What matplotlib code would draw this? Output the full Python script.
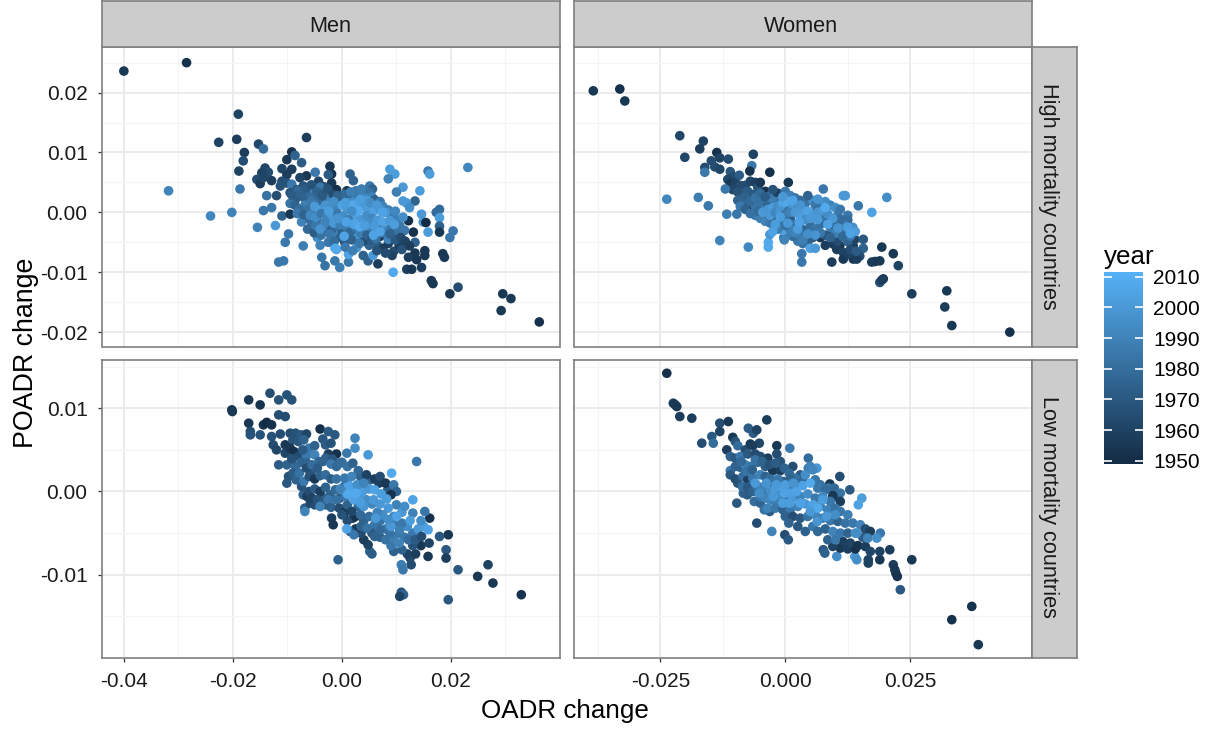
import numpy as np
import matplotlib
matplotlib.use("Agg")
import matplotlib.pyplot as plt
from matplotlib.colors import LinearSegmentedColormap, Normalize
from matplotlib.cm import ScalarMappable

plt.rcParams['font.family'] = ['Liberation Sans', 'DejaVu Sans']

# values: (OADR change, POADR change, year), OADR/POADR in thousandths
men_high = [
    (-40.0,23.6,1955),(-28.5,25.0,1952),(-19.0,16.4,1960),(-22.6,11.7,1960),(-19.3,12.2,1958),(-15.3,11.4,1962),
    (-14.4,10.6,1980),(-6.5,12.5,1958),(-17.9,10.0,1958),(-18.1,8.6,1965),(-18.9,6.9,1960),(-31.8,3.6,1990),
    (-18.7,3.9,1985),(-24.1,-0.6,1992),(-20.2,0.0,1990),(-15.5,-2.5,1990),(-12.2,-2.2,2000),(-14.4,0.3,1985),
    (-12.9,0.8,1985),(-13.8,2.8,1982),(-11.0,-0.6,1975),(-9.5,-0.3,1955),(-9.8,-3.6,1985),(-10.4,-5.0,1985),
    (-7.1,-5.6,1988),(-11.6,-8.3,1985),(-10.7,-8.1,1985),(23.1,7.5,1992),(15.8,6.9,1985),(16.1,6.4,2002),
    (8.8,7.2,2002),(9.7,6.4,2002),(8.5,5.6,1990),(11.2,4.2,2000),(10.0,3.4,1988),(14.3,3.6,2002),(13.4,1.9,1975),
    (11.2,1.9,2000),(11.8,1.6,2000),(12.4,0.8,1995),(17.9,0.5,1980),(17.3,0.0,1980),(14.6,-0.3,2000),(17.9,-0.9,2002),
    (14.9,-1.6,2000),(15.4,-1.7,1950),(17.9,-2.3,1975),(17.9,-3.3,1955),(15.8,-3.3,2002),(20.4,-3.1,1985),
    (19.8,-4.2,1985),(18.5,-6.9,1955),(18.8,-7.5,1955),(15.2,-6.4,1955),(15.2,-7.2,1955),(12.2,-1.4,1952),
    (13.1,-3.3,1952),(13.4,-5.0,1975),(13.4,-6.8,1955),(12.2,-7.5,1958),(13.7,-7.9,1955),(14.6,-9.2,1958),
    (11.9,-9.5,1958),(12.8,-9.5,1955),(9.4,-10.0,2008),(16.4,-11.4,1955),(16.7,-11.9,1955),(19.8,-13.6,1955),
    (21.3,-12.5,1965),(29.5,-13.6,1955),(31.0,-14.4,1955),(29.2,-16.4,1955),(36.2,-18.3,1952),
    (-14.1,7.4,1962),(-13.5,6.7,1965),(-14.7,6.6,1960),(-15.6,5.5,1965),(-15.0,4.8,1958),(-14.4,5.8,1962),
    (-12.9,5.3,1958),(-11.0,7.3,1962),(-9.2,7.2,1958),(-10.1,8.8,1955),(-9.2,10.1,1952),(-8.6,9.5,1975),
    (-7.4,8.3,1972),(-10.1,6.3,1958),(-6.5,6.1,1955),(-7.7,5.8,1960),(-11.0,5.2,1965),(-10.1,4.9,1968),
    (-11.3,4.4,1968),(-9.2,4.7,1985),(-12.0,2.8,1965),(-9.5,3.3,1968),(-8.3,3.8,1972),(-7.1,4.4,1968),
    (-4.9,6.7,1985),(-4.3,5.2,1962),(-2.2,7.7,1955),(-1.9,6.4,1952),(-2.5,6.3,1972),(-1.9,4.9,1955),(-1.0,3.8,1952),
    (0.9,3.6,1955),(1.5,6.4,1975),(2.1,5.3,1975),(5.1,4.4,1985),(5.6,3.9,1975),(-3.4,4.3,1962),
    (-8.0,3.5,1978),(-7.0,2.5,1975),(-8.5,2.2,1972),(-9.5,1.5,1983),(-6.0,3.2,1980),(-5.0,3.8,1990),(-4.0,4.2,1985),
    (-3.0,3.4,1978),(-2.5,3.0,1982),(-6.8,1.2,1988),(-5.5,2.0,1985),(-4.5,2.8,1980),(-3.5,2.1,1975),(-2.0,2.2,1990),
    (-1.0,1.8,1988),(0.0,2.3,1985),(1.0,2.4,1992),(2.0,2.5,1995),(3.0,2.9,1985),(4.0,3.0,1988),(5.0,3.4,1982),
    (5.5,2.6,1990),(6.0,2.1,1975),(7.0,1.8,1985),(7.5,1.0,1990),(8.5,0.4,1988),(9.0,-0.6,1985),(10.0,-1.2,1988),
    (-7.0,0.2,1985),(-6.5,-1.0,1985),(-5.5,-2.0,1982),(-4.5,-1.5,1978),(-3.5,-3.0,1975),(-2.5,-2.5,1988),
    (-2.0,-4.0,1985),(-1.0,-3.5,1990),(0.0,-3.0,1975),(1.0,-2.5,1988),(2.0,-3.5,1972),(3.0,-4.0,2000),(3.9,-3.0,1985),
    (5.0,-2.5,1990),(6.0,-3.5,1980),(7.0,-2.5,1972),(8.0,-3.0,1995),(9.0,-2.5,1985),(10.0,-3.5,1982),(11.5,-3.0,1985),
    (-3.7,-7.5,1985),(-3.1,-8.9,1982),(-1.3,-8.1,1985),(-0.4,-9.2,1988),(1.2,-8.3,1985),(3.9,-7.2,1975),(4.8,-8.1,1975),
    (5.7,-7.2,2000),(6.6,-8.6,1958),(-1.3,-5.9,2008),(-1.0,-6.2,2005),(1.2,-7.0,2005),(2.7,-5.9,2000),(0.5,-5.0,1970),
    (-2.5,-5.0,1985),(-4.5,-4.2,1995),(-4.0,-5.5,1990),(6.5,-5.5,1972),(7.5,-6.0,1958),(8.5,-5.2,1958),(9.5,-6.5,1965),
    (10.5,-5.5,1958),(11.0,-6.2,1968),(9.2,-7.2,1960),(5.0,-5.5,1975),(4.0,-4.8,1965),(7.0,-4.0,1955),(8.5,-4.5,1990),
]
men_high_core = [
    (-9.2,2.9,1972),(-8.6,1.2,1975),(-7.8,0.5,1980),(-8.2,-0.2,1985),(-7.4,-1.6,1990),(-6.3,-2.8,1978),(-5.1,-3.4,1972),
    (-6.0,0.6,1982),(-5.2,0.2,1985),(-4.2,1.3,1978),(-3.4,0.8,1985),(-7.6,3.0,1975),(-6.6,4.0,1972),(-5.6,4.6,1968),
    (-4.6,3.4,1975),(-3.6,2.9,1970),(-2.6,3.9,1968),(-1.6,3.0,1965),(-0.6,2.6,1972),(0.4,3.0,1980),(1.4,3.2,1975),
    (2.6,3.6,1985),(3.6,3.9,1988),(4.4,2.4,1990),(-7.0,-0.4,1975),(-5.9,-1.2,1980),(-4.8,-2.2,1985),(-3.8,-3.8,1982),
    (-2.9,-1.6,1988),(-1.9,-2.9,1975),(-0.9,-2.2,1982),(0.2,-1.9,1988),(1.4,-3.4,1978),(2.6,-2.6,1985),(3.4,-3.5,1988),
    (4.6,-3.8,1975),(5.4,-4.6,1970),(6.2,-4.4,1982),(7.4,-3.4,1985),(8.8,-3.6,1975),(9.8,-4.6,1970),(10.8,-4.2,1965),
    (11.6,-4.8,1960),(12.4,-5.6,1958),(10.6,-2.2,1985),(11.2,-0.8,1995),(9.8,0.2,1992),(-2.2,-3.6,1985),(-0.2,-4.2,1972),
    (1.8,-4.6,1975),(3.2,-5.2,1985),(-1.4,-4.8,1980),(0.6,-5.8,1985),(2.0,-6.4,1988),(6.4,-6.4,1968),(8.0,-6.8,1965),
    (-5.0,1.0,2000),(-4.0,0.3,2002),(-3.0,1.2,1998),(-2.0,0.8,1995),(-1.0,1.0,1990),(0.0,1.2,2005),(1.0,0.5,2000),
    (2.0,1.2,2008),(3.0,1.6,2005),(4.0,1.0,2000),(5.0,0.8,2002),(6.0,0.3,2005),(7.0,0.5,1998),(8.0,0.0,2000),
    (2.5,-0.5,2003),(-5.8,-0.5,1992),(-4.8,-0.8,1995),(-3.8,-0.2,1985),(-2.8,-0.8,1990),(-1.8,-0.5,2000),(-0.8,-0.2,1985),
    (0.2,-0.6,1995),(1.2,-1.2,1988),(3.5,-1.2,2000),(4.5,-0.5,1995),(5.5,-1.0,1992),(6.5,-1.3,2000),(7.5,-1.6,2005),
    (-3.2,-1.8,1990),(-1.5,-1.8,2000),(-0.3,-2.0,1988),(2.2,-2.0,2005),(3.2,-2.4,2008),(4.8,-1.8,1995),(6.0,-2.3,2000),
    (-0.8,2.8,1975),(1.6,3.4,1988),(4.5,2.0,2000),(3.0,0.3,2008),(5.8,-3.8,2005),(-4.0,-2.8,1998),(-1.5,1.8,1995),
    (0.6,1.6,2002),(1.8,0.2,1995),(3.4,2.2,2002),(5.2,1.6,1995),(6.4,1.2,2000),(7.4,0.0,2005),(8.8,-1.4,2000),(9.6,-2.0,2002),
    (0.8,-1.6,2005),(-0.8,-1.0,1998),(-2.4,0.2,2002),(4.2,-2.2,2002),(7.0,-3.2,2005),(-1.2,-6.0,2008),(0.4,-4.0,2005),
]
women_high = [
    (-38.4,20.3,1955),(-33.1,20.6,1952),(-32.1,18.6,1955),(-21.1,12.8,1962),(-16.4,11.9,1960),(-17.1,10.6,1958),
    (-20.1,9.2,1962),(-13.7,10.0,1953),(-14.8,8.6,1965),(-13.1,9.1,1960),(-11.4,8.9,1965),(-16.1,7.5,1965),
    (-14.1,7.6,1965),(-13.1,7.2,1962),(-16.1,6.7,1985),(-6.4,9.7,1960),(-6.7,7.8,1985),(-7.1,6.9,1953),(-3.1,6.7,1952),
    (0.6,5.0,1955),(7.6,3.9,1985),(11.6,2.8,2000),(12.0,2.8,2000),(20.3,2.5,1995),(14.6,1.1,1985),(17.3,0.0,2005),
    (-23.7,2.2,1992),(-17.4,2.5,1988),(-15.4,1.1,1985),(-11.7,-0.3,1988),(-9.7,-0.3,1985),(-13.1,-4.7,1990),
    (-7.4,-5.8,1992),(-3.4,-5.0,2008),(-3.4,-5.8,2008),(-3.1,-3.7,2000),(3.3,-6.9,1985),(3.3,-8.3,1985),(9.3,-8.3,1958),
    (19.3,-5.8,1955),(21.6,-6.9,1955),(22.6,-8.9,1960),(17.3,-8.3,1958),(18.9,-8.1,1955),(18.0,-8.2,1955),
    (19.6,-11.1,1955),(18.9,-11.7,1965),(19.3,-11.3,1958),(25.3,-13.6,1958),(32.3,-13.1,1955),(31.9,-15.8,1958),
    (33.3,-18.9,1955),(44.9,-20.0,1952),
    (-11.0,6.8,1970),(-10.5,6.0,1965),(-11.5,5.5,1962),(-11.0,4.8,1955),(-10.0,5.0,1960),(-9.2,6.2,1972),(-9.0,4.5,1965),
    (-10.5,3.8,1962),(-12.0,3.9,1985),(-9.5,3.4,1968),(-8.0,4.5,1965),(-7.0,5.2,1962),(-6.0,5.0,1958),(-5.5,4.2,1968),
    (-5.0,5.0,1955),(-4.0,3.5,1952),(-8.5,3.0,1968),(-7.5,3.5,1972),(-6.5,3.0,1970),(-9.5,2.0,1975),(-8.5,1.5,1978),
    (-7.5,0.7,1952),(-6.5,2.0,1975),(-5.5,2.8,1975),(-4.5,2.0,1980),(-3.0,2.8,1985),(-1.5,3.2,1958),
    (9.6,-5.3,1958),(10.9,-5.6,1955),(10.3,-6.2,1958),(11.6,-6.7,1960),(11.6,-7.8,1955),(13.6,-5.6,1958),(13.9,-4.5,1960),
    (15.6,-4.5,1970),(15.6,-6.0,1975),(14.9,-7.3,1965),(13.6,-7.8,1955),(14.3,-7.8,1958),(12.6,-7.0,1960),(9.3,-3.7,1955),
    (10.5,-4.8,1965),(12.5,-4.9,1975),(13.0,-6.2,1965),(8.0,-5.5,1958),(7.0,-4.2,1955),(8.0,-3.8,1970),(14.2,-6.5,1972),
    (5.5,-4.2,1970),(4.5,-5.0,1975),(3.5,-5.2,1982),(2.5,-4.8,1985),(1.5,-4.0,1980),(5.0,-6.0,2005),(6.0,-6.0,2000),
    (0.5,-3.5,1988),(-0.3,-4.2,1985),(-0.5,-3.0,2005),(-0.2,-4.6,1990),
]
women_high_core = [
    (-9.0,1.0,1985),(-8.0,0.5,1975),(-6.0,1.0,1985),(-5.0,1.2,1982),(-4.0,0.5,1988),(-3.0,1.5,1992),(-2.0,1.8,1988),
    (-1.0,2.0,1985),(0.0,3.5,1985),(1.0,2.8,1990),(2.0,2.4,1985),(3.0,2.0,1980),(4.0,1.5,1982),(5.5,2.0,1995),
    (6.0,1.2,1985),(7.0,1.3,1988),(8.0,1.8,1995),(9.0,1.2,1990),(10.0,0.8,1995),(11.0,0.5,1985),(10.5,-0.5,1985),
    (12.5,-0.5,1985),(12.5,-1.3,1980),(11.5,-2.0,1990),(13.5,-2.5,1995),(14.0,-3.2,2002),(12.0,-3.0,1985),
    (-6.0,-0.5,1985),(-5.0,-1.0,1988),(-4.0,-1.5,1990),(-3.0,-1.8,1985),(-2.0,-1.2,1975),(-1.0,-1.8,1985),(0.0,-1.0,1975),
    (1.0,-1.0,1972),(2.0,-2.0,1985),(3.0,-2.5,1988),(4.0,-3.0,1975),(5.0,-2.2,1980),(6.0,-2.8,1985),(7.0,-2.0,1982),
    (8.0,-1.5,1975),(9.0,-2.5,1985),(10.0,-3.5,1988),(-1.5,-2.8,1988),(1.0,-3.0,1988),(3.0,-3.8,1985),(-2.5,-3.2,2005),
    (-8.0,2.6,1975),(-7.0,1.8,1978),(-6.0,2.4,1982),(-5.0,3.2,1978),(-4.0,2.6,1972),(-2.5,3.8,1968),(-7.0,-0.2,1982),
    (-5.5,0.2,1980),(-3.5,1.0,1975),(-1.5,0.4,1978),(0.5,0.8,1982),(3.5,0.8,1985),(5.0,-0.2,1978),(7.5,-0.8,1982),
    (9.5,-2.0,1978),(11.0,-1.2,1980),(13.0,-4.0,1985),(11.5,-4.0,1978),(9.0,-4.2,1975),(7.0,-3.4,1985),(5.5,-3.2,1982),
    (3.5,-4.6,1988),(2.0,-3.4,1990),(0.0,-2.2,1982),(-3.5,-0.4,1985),(4.5,2.8,1975),(6.5,0.6,1982),
    (-4.5,0.0,2000),(-3.5,0.5,1998),(-2.5,0.8,2002),(-1.5,1.0,1995),(-0.5,1.5,2005),(0.5,1.8,2008),(1.5,1.2,2000),
    (2.5,0.8,1995),(3.5,0.3,2000),(4.5,0.2,2005),(5.5,-0.5,2002),(6.5,0.0,1998),(7.5,0.3,2000),(8.5,-0.3,1995),
    (9.5,-1.0,2000),(-3.0,-0.5,2000),(-2.0,0.0,1992),(-1.0,0.2,1998),(0.0,-0.3,1985),(1.0,0.0,1990),(2.0,0.0,2000),
    (3.0,-0.8,2002),(4.0,-1.2,1995),(5.0,-1.0,2000),(-1.0,-0.8,2002),(0.5,-1.8,2000),(2.5,-2.8,2002),(6.5,-1.2,2000),
    (8.0,0.8,2008),(12.5,-2.5,2002),(13.0,-3.5,2005),(-0.5,2.6,2000),(6.5,2.2,1998),(1.5,2.0,2005),(3.0,1.2,1998),
    (8.5,-2.0,2005),(10.5,-2.6,1998),(-2.0,-2.0,2002),(4.5,-3.6,1995),(6.0,-3.8,1998),(2.8,-1.6,2005),
]
men_low = [
    (-20.2,9.8,1952),(-20.1,9.6,1955),(-17.1,11.0,1955),(-15.0,10.4,1953),(-13.2,11.8,1965),(-11.6,11.0,1968),
    (-10.1,11.6,1968),(-9.2,11.0,1968),(-11.6,9.2,1965),(-10.4,9.0,1965),(-17.1,8.2,1955),(-14.4,8.0,1952),(-13.8,8.3,1950),
    (-12.9,8.0,1952),(-16.8,7.2,1965),(-16.8,6.8,1968),(-15.0,6.8,1968),(-12.9,6.6,1968),(-11.3,6.9,1965),(-12.6,5.6,1965),
    (-12.0,5.0,1962),(-10.4,5.6,1955),(-10.4,4.6,1962),(-11.6,3.2,1972),(-10.1,3.2,1975),(-9.8,1.8,1968),(-10.1,1.0,1970),
    (-4.0,7.5,1952),(-2.5,7.2,1972),(-1.3,6.8,1970),(2.4,6.4,1990),(2.4,5.2,1995),(4.8,4.4,2000),(13.7,3.6,1985),(0.9,4.6,1985),
    (9.1,2.2,2008),(13.0,-1.0,2005),(-7.1,-0.4,1975),(-6.8,-2.0,1972),(-6.8,-2.4,1990),(-1.9,-3.2,1958),(-1.6,-4.0,1955),
    (-0.7,-8.2,1975),(16.1,-3.2,1952),(15.2,-2.4,1985),(19.5,-5.2,1955),(17.9,-5.4,1970),(19.1,-7.0,1970),(19.1,-8.0,1958),
    (15.8,-7.8,1955),(21.3,-9.4,1970),(24.9,-10.2,1955),(26.8,-8.8,1960),(27.7,-11.0,1955),(32.9,-12.4,1953),(19.5,-13.0,1970),
    (10.9,-12.1,1970),(11.3,-12.4,1975),(10.6,-12.6,1960),(10.9,-8.8,1988),(11.2,-9.4,1985),(12.7,-8.8,1965),(5.1,-7.2,1975),
    (5.5,-7.5,1972),(4.8,-6.4,1960),(12.5,-8.0,1965),(12.0,-7.5,1960),(13.5,-7.5,1958),(14.5,-6.5,1955),(16.0,-6.2,1960),
    (13.0,-6.5,1968),(11.0,-7.0,1975),(9.5,-7.2,1975),(9.0,-6.5,1985),(4.0,-5.8,1958),(3.5,-5.0,1965),(2.5,-4.5,1955),
    (2.0,-3.2,1958),(1.0,-3.5,1965),(1.5,-4.8,1972),(2.2,-5.2,1985),(0.9,-4.5,2005),
    (-9.5,7.0,1965),(-8.5,7.0,1968),(-7.5,6.8,1970),(-6.5,6.9,1962),(-9.0,6.2,1968),(-8.0,6.0,1970),(-7.0,6.2,1975),
    (-9.5,5.2,1955),(-8.8,4.8,1952),(-8.0,4.2,1965),(-6.0,5.2,1985),(-5.0,5.5,1975),(-3.5,6.3,1970),(-3.0,5.6,1972),
    (-2.0,5.8,1968),(-2.5,4.5,1958),(-1.0,4.5,1952),(-6.5,4.3,1985),(-5.0,4.4,1990),(-7.5,3.5,1975),(-8.5,3.0,1978),
]
men_low_core = [
    (-9.2,3.9,1968),(-7.2,5.0,1972),(-6.4,3.4,1975),(-5.6,2.4,1970),(-4.2,3.6,1978),(-3.0,4.0,1975),(-1.8,3.9,1970),(-0.4,3.4,1975),
    (-9.0,2.2,1972),(-8.4,1.4,1975),(-7.4,0.6,1968),(-6.4,-0.6,1958),(-5.8,-1.4,1962),(-5.0,-1.6,1965),(-3.8,-0.6,1972),(-3.0,-1.6,1968),
    (-2.2,-0.4,1975),(-1.2,0.2,1978),(-0.4,-0.8,1970),(0.4,0.6,1982),(1.4,0.0,1985),(3.4,1.8,1975),(5.2,1.4,1978),(6.8,1.0,1958),(8.4,0.2,1972),
    (-7.8,2.2,1982),(-6.5,2.8,1965),(-5.5,3.2,1980),(-4.5,2.8,1972),(-3.5,3.6,1975),(-2.0,3.3,1985),(-1.0,3.0,1978),
    (-7.0,1.2,1985),(-6.0,1.8,1968),(-5.0,1.5,1955),(-4.0,1.9,1975),(-3.0,2.0,1980),(-2.0,1.5,1972),(-1.0,1.5,1982),
    (0.0,3.5,1980),(1.0,3.0,1982),(2.0,3.4,1975),(3.0,2.5,1978),(4.5,2.0,1960),(6.0,1.5,1958),(7.0,1.8,1965),(8.0,1.0,1955),
    (9.5,0.8,1985),(10.0,0.0,1975),(9.0,-0.4,1953),(-6.0,0.0,1965),(-5.0,0.3,1972),(-4.0,0.0,1958),(-3.0,0.5,1975),
    (-5.5,-0.8,1960),(-4.5,-1.0,1968),(-3.5,-1.4,1972),(-2.5,-1.0,1985),(-4.0,-1.8,1990),(-2.0,-1.9,1975),(-1.0,-1.0,1982),
    (-0.5,-2.0,1965),(0.5,-2.5,1955),(2.5,-3.0,1952),(3.0,-1.8,1978),(4.0,-3.5,1975),(5.0,-3.0,1980),(6.0,-4.0,1985),
    (7.0,-3.5,1982),(8.0,-4.5,1985),(3.5,-4.2,1975),(5.5,-5.0,1970),(7.0,-5.5,1975),(8.0,-5.8,1982),(9.5,-5.5,1988),
    (10.5,-5.0,1985),(11.5,-5.5,1985),(10.5,-6.2,1990),(13.0,-5.0,1985),(12.0,-4.2,1995),(11.0,-3.8,1985),(14.0,-4.5,2000),
    (1.0,-1.6,1975),(0.0,-2.8,1968),(1.8,-2.4,1962),(3.4,-2.8,1978),(4.6,-4.4,1982),(6.0,-5.4,1975),(7.0,-4.6,1978),(8.8,-5.0,1982),
    (9.5,-4.0,1985),(10.6,-4.6,1988),(12.2,-5.8,1980),(13.4,-5.8,1972),(14.6,-5.4,1965),(0.6,-0.6,1985),
    (15.0,-4.2,2002),(15.8,-4.6,2005),(14.5,-3.5,1995),(13.0,-2.6,1990),(12.5,-3.5,2002),(11.0,-2.5,2000),(10.0,-1.6,1990),
    (9.5,-3.0,1990),(8.5,-2.0,2000),(7.5,-2.8,1995),(6.5,-2.5,1990),(5.5,-1.5,1992),(4.5,-1.0,1995),(3.0,-0.5,2000),
    (2.0,0.2,2005),(1.0,-0.3,2008),(2.2,-1.0,2005),(3.8,0.0,2002),(5.0,0.3,2000),(6.0,0.2,2005),(7.2,-0.3,2002),(5.8,-1.0,2000),
    (4.0,-1.8,1998),(7.0,-1.5,2000),(8.2,-0.9,2002),(1.2,0.8,2005),(2.8,0.8,1995),(4.0,1.0,1990),(0.5,1.6,1985),(1.8,1.8,1990),
    (-0.3,0.3,1990),(9.0,-4.2,2000),(10.0,-3.0,2005),(11.5,-1.8,1995),(6.2,-3.2,2000),(8.5,-3.4,1995),(2.6,-0.2,2008),(3.4,-1.4,2002),
]
women_low = [
    (-23.7,14.2,1952),(-22.4,10.6,1958),(-22.0,10.4,1955),(-21.7,10.2,1955),(-21.1,9.0,1958),(-18.7,8.8,1958),(-16.7,5.8,1965),
    (-14.7,6.6,1970),(-14.4,5.8,1980),(-13.1,8.2,1965),(-11.4,8.4,1955),(-13.1,7.2,1960),(-3.7,8.6,1958),(-7.4,7.6,1972),
    (-6.4,7.0,1972),(-5.7,7.4,1960),(-5.2,5.8,1962),(-11.7,5.0,1958),(-1.7,5.5,1955),(0.9,5.2,1985),(4.6,4.0,1980),(6.3,2.8,2000),
    (10.9,1.8,1965),(8.9,0.9,1955),(12.9,0.2,1970),(15.3,-0.8,2002),(14.6,-1.6,2005),(-9.7,-1.4,1970),(-8.4,-0.2,1975),
    (-6.4,0.2,1955),(-3.1,-2.4,1972),(-5.7,-3.8,1965),(-2.7,-4.8,1990),(-0.1,-5.2,1965),(0.6,-5.8,1970),(7.6,-7.0,1970),
    (7.9,-7.4,1975),(10.3,-7.8,1995),(13.9,-7.8,2000),(14.3,-8.2,1995),(16.6,-8.2,1960),(16.6,-8.6,1960),(18.9,-8.2,1955),
    (18.9,-7.2,1960),(20.9,-7.0,1958),(25.3,-8.2,1955),(21.6,-8.8,1958),(21.9,-9.4,1955),(22.1,-9.8,1955),(22.4,-10.2,1953),
    (23.0,-11.8,1970),(37.3,-13.8,1953),(33.3,-15.4,1952),(38.6,-18.4,1955),
    (-10.5,6.5,1955),(-10.0,6.0,1968),(-9.5,5.5,1980),(-8.0,5.0,1965),(-7.0,5.7,1955),(-6.5,5.5,1958),(-11.0,4.2,1975),
    (-10.0,4.0,1970),(-9.0,4.2,1985),(-7.5,4.5,1970),(-6.0,4.5,1965),(-5.0,4.2,1965),(-3.5,4.0,1958),(-1.7,4.5,1965),
    (-1.0,3.6,1968),(-11.0,2.5,1985),(-10.0,3.0,1975),(-9.0,2.9,1975),(-8.0,3.2,1990),(-7.0,3.0,1985),(-5.5,3.5,1978),
    (-4.0,3.0,1972),(-2.5,2.5,1955),(-1.0,2.5,1958),(1.5,3.0,1965),(3.0,2.0,1972),(-11.0,2.0,1970),(-10.0,1.5,1965),
    (-9.5,1.0,1968),(-8.5,1.8,1980),(-7.5,1.4,1958),(-6.5,1.6,1985),(-5.0,2.0,1990),(-4.0,1.8,1975),(-3.0,1.5,1980),
    (11.0,-6.8,1955),(12.5,-6.9,1958),(14.0,-6.9,1952),(9.5,-6.6,1960),(11.5,-6.0,1958),(13.0,-6.2,1960),(14.5,-6.5,1953),
    (16.0,-6.6,1958),(17.0,-7.2,1962),
]
women_low_core = [
    (-8.8,3.6,1978),(-7.8,2.4,1982),(-6.6,2.6,1975),(-6.0,3.8,1982),(-4.6,3.6,1975),(-3.2,3.2,1968),(-2.0,3.4,1972),(-0.2,2.8,1975),
    (-8.6,0.6,1980),(-7.6,-0.4,1972),(-7.0,0.6,1985),(-6.2,-1.2,1980),(-5.0,-1.4,1975),(-4.2,-2.2,1982),(-3.6,-0.2,1978),
    (-2.6,1.0,1982),(-0.4,1.2,1975),(0.8,2.2,1978),(2.0,1.6,1982),(3.6,1.2,1978),(4.6,2.8,1985),(6.0,1.4,1985),(7.0,0.8,1982),
    (8.6,0.4,1985),(9.8,0.4,1978),(10.2,-0.6,1972),(11.0,-0.2,1982),(-1.5,1.5,1985),(1.0,1.5,1975),(2.5,1.0,1980),(4.0,2.0,1995),
    (5.0,3.0,1990),(5.5,2.6,1992),(-7.5,0.5,1970),(-6.5,0.0,1975),(-5.5,0.6,1985),(-4.5,0.5,1990),(-3.0,0.0,1995),(-2.0,0.3,2002),
    (-1.0,0.4,2005),(0.5,0.3,1985),(2.0,0.6,1985),(3.5,0.7,2005),(5.0,1.0,2008),(6.5,0.4,1985),(8.0,0.2,1980),(9.5,-0.5,1955),
    (-5.0,-0.6,1985),(-4.0,-0.8,1990),(-3.0,-1.0,1992),(-2.0,-1.2,1988),(-1.0,-0.4,1995),(0.0,-1.0,1985),(1.5,-0.8,2000),
    (3.0,-0.6,1990),(4.5,-0.3,1995),(6.0,-0.8,1985),(7.5,-0.6,1992),(9.0,-1.2,1985),(11.0,-1.2,1958),(-3.5,-2.0,1990),(-2.0,-2.0,1985),
    (-0.5,-2.2,1975),(1.0,-2.2,1985),(2.5,-1.8,1990),(4.0,-1.5,2000),(5.5,-1.6,2005),(7.0,-1.8,1988),(8.5,-2.2,1990),(10.0,-2.0,1982),
    (11.0,-2.4,1985),(12.5,-2.8,1988),(0.0,-3.0,1975),(1.5,-3.0,1965),(3.0,-3.2,1970),(4.5,-3.0,1982),(6.0,-2.8,1992),
    (7.5,-3.2,1988),(9.0,-3.5,1985),(10.5,-3.6,1975),(12.0,-3.8,1982),(13.5,-3.8,1985),(15.0,-4.0,1990),(16.0,-4.5,1965),
    (17.0,-4.8,1958),(19.0,-5.0,1985),(18.3,-5.6,1995),(0.7,-3.8,1975),(2.5,-4.2,1970),(4.0,-4.8,1975),(5.5,-4.2,1985),
    (6.5,-4.8,1978),(8.0,-4.5,1975),(9.5,-4.8,1990),(11.0,-5.0,1985),(12.5,-5.0,1975),(14.0,-5.0,1995),(15.5,-5.5,1972),
    (16.5,-5.6,1990),(8.5,-5.8,1975),(10.0,-5.8,1985),(-0.5,-1.4,2002),(1.0,-0.2,2003),(6.5,-2.0,2008),(7.5,-1.0,2002),
    (-1.8,0.8,2000),(-6.0,1.0,2000),(2.2,0.0,2005),(14.3,-5.0,1995),(-3.8,1.0,1998),(-2.4,-0.6,2000),(-0.2,-0.2,2005),(0.8,-1.4,2002),
    (3.0,-1.4,2005),(5.0,-2.4,2000),(6.4,-3.6,1998),(8.2,-3.0,2000),(10.0,-2.8,1995),(0.0,0.8,2002),(1.6,1.0,1998),(-5.2,-0.2,1995),
]

oadr_ticks_men = [-0.04, -0.02, 0.00, 0.02]
oadr_labels_men = ["-0.04", "-0.02", "0.00", "0.02"]
oadr_minor_men = [-0.03, -0.01, 0.01, 0.03]
oadr_ticks_women = [-0.025, 0.000, 0.025]
oadr_labels_women = ["-0.025", "0.000", "0.025"]
oadr_minor_women = [-0.0375, -0.0125, 0.0125, 0.0375]
poadr_ticks_high = [-0.02, -0.01, 0.00, 0.01, 0.02]
poadr_labels_high = ["-0.02", "-0.01", "0.00", "0.01", "0.02"]
poadr_minor_high = [-0.015, -0.005, 0.005, 0.015, 0.025]
poadr_ticks_low = [-0.01, 0.00, 0.01]
poadr_labels_low = ["-0.01", "0.00", "0.01"]
poadr_minor_low = [-0.015, -0.005, 0.005, 0.015]
legend_years = [1950, 1960, 1970, 1980, 1990, 2000, 2010]
legend_labels = ["1950", "1960", "1970", "1980", "1990", "2000", "2010"]

W, H = 1219, 731
fig = plt.figure(figsize=(W / 100, H / 100), dpi=100)
border = "#7f7f7f"
text_col = "#1a1a1a"
cmap = LinearSegmentedColormap.from_list("gg", ["#132B43", "#56B1F7"])
norm = Normalize(1949, 2011.5)


def box(l, t, r, b):
    return fig.add_axes([l / W, 1 - b / H, (r - l) / W, (b - t) / H])


def panel(pos, pts, xlim, ylim, xt, xm, yt, ym):
    ax = box(*pos)
    vals = np.array(pts)
    ax.scatter(vals[:, 0] / 1000, vals[:, 1] / 1000, c=vals[:, 2], cmap=cmap, norm=norm, s=48, linewidths=0, zorder=3)
    ax.set_xlim(xlim)
    ax.set_ylim(ylim)
    ax.set_xticks(xt)
    ax.set_xticks([v for v in xm if xlim[0] < v < xlim[1]], minor=True)
    ax.set_yticks(yt)
    ax.set_yticks([v for v in ym if ylim[0] < v < ylim[1]], minor=True)
    ax.grid(which="major", color="#ebebeb", lw=1.4, zorder=0)
    ax.grid(which="minor", color="#f4f4f4", lw=0.8, zorder=0)
    ax.set_axisbelow(True)
    ax.tick_params(which="minor", length=0)
    ax.tick_params(axis="x", which="major", length=3, width=0.9, color="#333333", labelsize=15, labelcolor=text_col, pad=7)
    ax.tick_params(axis="y", which="major", length=3, width=0.9, color="#333333", labelsize=15, labelcolor=text_col, pad=7)
    ax.set_xticklabels([])
    ax.set_yticklabels([])
    for s in ax.spines.values():
        s.set_color(border)
        s.set_linewidth(1.2)
    return ax


x_left = (-0.0441, 0.0400)
x_right = (-0.04226, 0.04924)
y_top = (-0.0224, 0.0277)
y_bot = (-0.0200, 0.01579)

a = panel((101.5, 46.5, 560, 346.5), men_high + men_high_core, x_left, y_top, oadr_ticks_men, oadr_minor_men, poadr_ticks_high, poadr_minor_high)
b = panel((574, 46.5, 1031.5, 346.5), women_high + women_high_core, x_right, y_top, oadr_ticks_women, oadr_minor_women, poadr_ticks_high, poadr_minor_high)
c = panel((101.5, 360, 560, 658), men_low + men_low_core, x_left, y_bot, oadr_ticks_men, oadr_minor_men, poadr_ticks_low, poadr_minor_low)
d = panel((574, 360, 1031.5, 658), women_low + women_low_core, x_right, y_bot, oadr_ticks_women, oadr_minor_women, poadr_ticks_low, poadr_minor_low)

a.set_yticklabels(poadr_labels_high)
c.set_yticklabels(poadr_labels_low)
c.set_xticklabels(oadr_labels_men)
d.set_xticklabels(oadr_labels_women)
a.tick_params(axis="x", length=0)
b.tick_params(axis="both", length=0)
d.tick_params(axis="y", length=0)


def strip(pos, label, tx, ty, rotation=0):
    ax = box(*pos)
    ax.set_facecolor("#cccccc")
    ax.set_xticks([])
    ax.set_yticks([])
    for s in ax.spines.values():
        s.set_color(border)
        s.set_linewidth(1.2)
    fig.text(tx / W, 1 - ty / H, label, ha="center", va="center", rotation=rotation, fontsize=15.7, color=text_col)


strip((101.5, 1, 560, 46.5), "Men", 330, 26)
strip((574, 1, 1031.5, 46.5), "Women", 800.5, 26)
strip((1031.5, 46.5, 1077, 346.5), "High mortality countries", 1049, 196.5, -90)
strip((1031.5, 360, 1077, 658), "Low mortality countries", 1049, 507, -90)

fig.text(565 / W, 1 - 711 / H, "OADR change", ha="center", va="center", fontsize=18.7, color="black")
fig.text(26 / W, 1 - 353 / H, "POADR change", ha="center", va="center", rotation=90, fontsize=19.3, color="black")
fig.text(1104 / W, 1 - 257 / H, "year", ha="left", va="center", fontsize=18.7, color="black")

cax = box(1104, 272, 1142.5, 464)
cb = fig.colorbar(ScalarMappable(norm=norm, cmap=cmap), cax=cax)
cb.outline.set_visible(False)
cb.set_ticks(legend_years)
cb.set_ticklabels(legend_labels)
cax.tick_params(length=0, labelsize=15, labelcolor="black", pad=7.5)
cax.hlines(legend_years, 0, 0.2, color="white", lw=1.2, transform=cax.get_yaxis_transform())
cax.hlines(legend_years, 0.8, 1, color="white", lw=1.2, transform=cax.get_yaxis_transform())

fig.savefig("out.png", dpi=100)
